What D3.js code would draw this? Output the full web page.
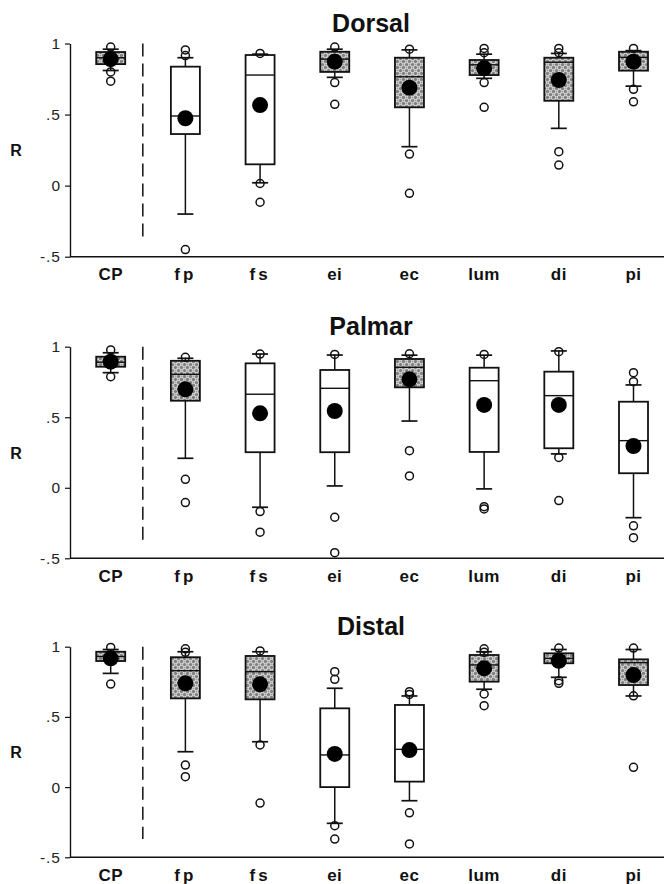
<!DOCTYPE html>
<html><head><meta charset="utf-8">
<script src="https://cdn.jsdelivr.net/npm/d3@7"></script>
<style>body{margin:0;background:#fff} svg{display:block}</style>
</head><body>
<script>
const categories = ["CP","fp","fs","ei","ec","lum","di","pi"];
const panelTitles = ["Dorsal","Palmar","Distal"];
const yTickValues = [-0.5, 0, 0.5, 1];
const yTickLabels = ["-.5","0",".5","1"];
const yAxisLabel = "R";

// Dorsal
const dorsalLow    = [0.81, -0.20, 0.02, 0.762, 0.274, 0.755, 0.403, 0.70];
const dorsalQ1     = [0.855, 0.363, 0.15, 0.80, 0.551, 0.778, 0.597, 0.809];
const dorsalMedian = [0.90, 0.49, 0.778, 0.89, 0.766, 0.85, 0.868, 0.903];
const dorsalQ3     = [0.94, 0.837, 0.919, 0.942, 0.90, 0.884, 0.90, 0.942];
const dorsalHigh   = [0.96, 0.90, 0.925, 0.96, 0.955, 0.925, 0.93, 0.95];
const dorsalMean   = [0.89, 0.474, 0.567, 0.872, 0.689, 0.825, 0.743, 0.872];
const dorsalOutliers = [[0.975, 0.80, 0.735], [0.955, 0.915, -0.45], [0.93, 0.015, -0.117], [0.975, 0.725, 0.572],
                        [0.96, 0.222, -0.054], [0.965, 0.935, 0.725, 0.551], [0.965, 0.935, 0.239, 0.145], [0.965, 0.678, 0.59]];
const dorsalShaded = [true, false, false, true, true, true, true, true];

// Palmar
const palmarLow    = [0.816, 0.209, -0.138, 0.013, 0.473, -0.008, 0.24, -0.212];
const palmarQ1     = [0.858, 0.617, 0.252, 0.252, 0.712, 0.254, 0.28, 0.103];
const palmarMedian = [0.89, 0.804, 0.663, 0.705, 0.854, 0.759, 0.653, 0.334];
const palmarQ3     = [0.929, 0.90, 0.882, 0.835, 0.913, 0.851, 0.823, 0.61];
const palmarHigh   = [0.957, 0.918, 0.948, 0.941, 0.94, 0.94, 0.97, 0.729];
const palmarMean   = [0.894, 0.698, 0.528, 0.544, 0.769, 0.587, 0.587, 0.296];
const palmarOutliers = [[0.977, 0.787], [0.925, 0.06, -0.105], [0.948, -0.169, -0.315], [0.945, -0.209, -0.46],
                        [0.95, 0.263, 0.084], [0.945, -0.134, -0.15], [0.965, 0.215, -0.091], [0.816, 0.752, -0.27, -0.354]];
const palmarShaded = [true, true, false, false, true, false, false, false];

// Distal
const distalLow    = [0.81, 0.252, 0.323, -0.258, -0.097, 0.697, 0.782, 0.649];
const distalQ1     = [0.898, 0.632, 0.625, 0.0, 0.039, 0.751, 0.882, 0.727];
const distalMedian = [0.93, 0.829, 0.822, 0.229, 0.269, 0.87, 0.917, 0.886];
const distalQ3     = [0.964, 0.925, 0.934, 0.561, 0.585, 0.941, 0.953, 0.91];
const distalHigh   = [0.98, 0.964, 0.964, 0.704, 0.649, 0.964, 0.98, 0.98];
const distalMean   = [0.917, 0.739, 0.732, 0.236, 0.264, 0.846, 0.90, 0.798];
const distalOutliers = [[0.995, 0.734], [0.985, 0.96, 0.157, 0.074], [0.97, 0.30, -0.114], [0.822, 0.768, -0.275, -0.37],
                        [0.68, 0.66, -0.183, -0.405], [0.985, 0.96, 0.663, 0.58], [0.99, 0.758, 0.739], [0.99, 0.65, 0.141]];
const distalShaded = [true, true, true, false, false, true, true, true];

const panels = [
  {title: panelTitles[0], low: dorsalLow, q1: dorsalQ1, med: dorsalMedian, q3: dorsalQ3, high: dorsalHigh, mean: dorsalMean, out: dorsalOutliers, shaded: dorsalShaded},
  {title: panelTitles[1], low: palmarLow, q1: palmarQ1, med: palmarMedian, q3: palmarQ3, high: palmarHigh, mean: palmarMean, out: palmarOutliers, shaded: palmarShaded},
  {title: panelTitles[2], low: distalLow, q1: distalQ1, med: distalMedian, q3: distalQ3, high: distalHigh, mean: distalMean, out: distalOutliers, shaded: distalShaded}
];

const W = 665, H = 884;
const FONT = "'Liberation Sans', Arial, Helvetica, sans-serif";
const svg = d3.select("body").append("svg").attr("width", W).attr("height", H);

const pat = svg.append("defs").append("pattern")
  .attr("id", "dots").attr("patternUnits", "userSpaceOnUse")
  .attr("width", 6).attr("height", 6);
pat.append("rect").attr("width", 6).attr("height", 6).attr("fill", "#d9d9d9");
pat.append("circle").attr("cx", 1.5).attr("cy", 1.5).attr("r", 1.6).attr("fill", "#808080");
pat.append("circle").attr("cx", 4.5).attr("cy", 4.5).attr("r", 1.6).attr("fill", "#808080");
pat.append("circle").attr("cx", 4.5).attr("cy", 1.5).attr("r", 1.0).attr("fill", "#a0a0a0");
pat.append("circle").attr("cx", 1.5).attr("cy", 4.5).attr("r", 1.0).attr("fill", "#a0a0a0");

const panelTop = [43.5, 346.7, 646.7];
const panelBottom = [256.7, 558.3, 857.3];
const axisX = 70, axisRight = 664;
const x = d3.scalePoint().domain(categories).range([110.7, 633.5]);
const step = x.step();
const boxW = 29, capW = 16;

panels.forEach((p, pi) => {
  const y = d3.scaleLinear().domain([-0.5, 1]).range([panelBottom[pi], panelTop[pi]]);
  const g = svg.append("g");

  // title
  g.append("text").attr("x", 371).attr("y", panelTop[pi] - 12)
    .attr("text-anchor", "middle").attr("font-family", FONT)
    .attr("font-weight", "bold").attr("font-size", 25).attr("fill", "#111")
    .text(p.title);

  // y axis
  const ax = d3.axisLeft(y).tickValues(yTickValues)
    .tickFormat((d, i) => yTickLabels[i]).tickSize(5).tickSizeOuter(0).tickPadding(4);
  const ag = g.append("g").attr("transform", `translate(${axisX},0)`).call(ax);
  ag.select(".domain").attr("stroke", "#111").attr("stroke-width", 1.4);
  ag.selectAll(".tick line").attr("stroke", "#111").attr("stroke-width", 1.2);
  ag.selectAll(".tick text").attr("font-family", FONT).attr("font-size", 15.5).attr("fill", "#222")
    .attr("letter-spacing", 1);

  // x axis baseline
  g.append("line").attr("x1", axisX).attr("x2", axisRight)
    .attr("y1", y(-0.5)).attr("y2", y(-0.5))
    .attr("stroke", "#111").attr("stroke-width", 1.5);

  // x labels
  g.selectAll("text.xl").data(categories).join("text").attr("class", "xl")
    .attr("x", d => x(d)).attr("y", y(-0.5) + 23.5)
    .attr("text-anchor", "middle").attr("font-family", FONT)
    .attr("font-weight", "bold").attr("font-size", 17).attr("fill", "#111")
    .attr("letter-spacing", d => (d === "fp" || d === "fs") ? 3 : 0.5)
    .text(d => d);

  // R label
  g.append("text").attr("x", 16).attr("y", (y(1) + y(-0.5)) / 2 + 6)
    .attr("text-anchor", "middle").attr("font-family", FONT)
    .attr("font-weight", "bold").attr("font-size", 16).attr("fill", "#111")
    .text(yAxisLabel);

  // dashed separator
  const sepX = x(categories[0]) + step * 0.43;
  g.append("line").attr("x1", sepX).attr("x2", sepX)
    .attr("y1", y(1)).attr("y2", y(-0.37))
    .attr("stroke", "#111").attr("stroke-width", 1.5)
    .attr("stroke-dasharray", "13,7");

  categories.forEach((c, i) => {
    const cx = x(c);
    const cg = g.append("g");
    // whiskers
    cg.append("line").attr("x1", cx).attr("x2", cx).attr("y1", y(p.low[i])).attr("y2", y(p.q1[i]))
      .attr("stroke", "#111").attr("stroke-width", 1.5);
    cg.append("line").attr("x1", cx).attr("x2", cx).attr("y1", y(p.q3[i])).attr("y2", y(p.high[i]))
      .attr("stroke", "#111").attr("stroke-width", 1.5);
    [p.low[i], p.high[i]].forEach(v => {
      cg.append("line").attr("x1", cx - capW / 2).attr("x2", cx + capW / 2)
        .attr("y1", y(v)).attr("y2", y(v)).attr("stroke", "#111").attr("stroke-width", 1.7);
    });
    // box
    cg.append("rect").attr("x", cx - boxW / 2).attr("width", boxW)
      .attr("y", y(p.q3[i])).attr("height", y(p.q1[i]) - y(p.q3[i]))
      .attr("fill", p.shaded[i] ? "url(#dots)" : "#fff")
      .attr("stroke", "#111").attr("stroke-width", 1.8);
    // median
    cg.append("line").attr("x1", cx - boxW / 2).attr("x2", cx + boxW / 2)
      .attr("y1", y(p.med[i])).attr("y2", y(p.med[i]))
      .attr("stroke", "#111").attr("stroke-width", 1.4);
    // outliers
    cg.selectAll("circle.o").data(p.out[i]).join("circle").attr("class", "o")
      .attr("cx", cx).attr("cy", d => y(d)).attr("r", 4)
      .attr("fill", "none").attr("stroke", "#111").attr("stroke-width", 1.5);
    // mean
    cg.append("circle").attr("cx", cx).attr("cy", y(p.mean[i])).attr("r", 8).attr("fill", "#000");
  });
});
</script>
</body></html>
